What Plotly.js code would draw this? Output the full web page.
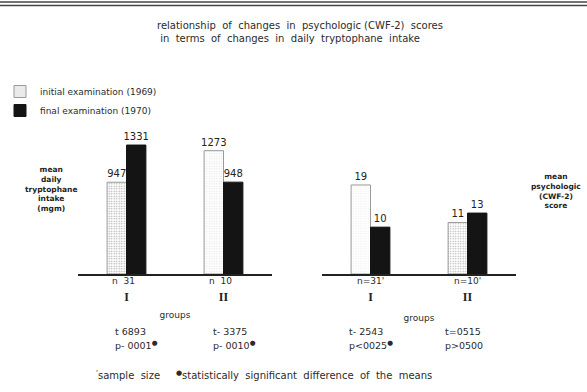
<!DOCTYPE html>
<html>
<head>
<meta charset="utf-8">
<script src="https://cdn.plot.ly/plotly-3.0.1.min.js"></script>
<style>html,body{margin:0;padding:0;background:#fff;}#chart{width:587px;height:392px;}</style>
</head>
<body>
<div id="chart"></div>
<script>
// ---- data ----
const groups = ['I', 'II'];
const groupLabels = ['I', 'II'];
const intakeInitial = [947, 1273];   // mean daily tryptophane intake (mgm), 1969
const intakeFinal = [1331, 948];     // 1970
const scoreInitial = [19, 11];       // mean psychologic (CWF-2) score, 1969
const scoreFinal = [10, 13];         // 1970
const sampleSizes = [31, 10];
const tLabels = ['t 6893', 't- 3375', 't- 2543', 't=0515'];
const pLabels = ['p- 0001', 'p- 0010', 'p<0025', 'p>0500'];
const significant = [true, true, true, false];
const seriesNames = ['initial examination (1969)', 'final examination (1970)'];

// ---- styles ----
const W = 587, H = 392;
const px = v => v / W;
const py = v => 1 - v / H;
const txt = '#2b2b2b';
const FAM = 'DejaVu Sans, Liberation Sans, sans-serif';
const baseFont = {family: FAM, size: 9, color: txt};
const initialMarker = (fg) => ({
  color: '#ffffff',
  line: {color: '#9a9a9a', width: 1},
  pattern: {shape: '.', fgcolor: fg, bgcolor: '#ffffff', size: 2.5, solidity: 0.25}
});
const finalMarker = {color: '#141414', line: {color: '#141414', width: 1}};
const barText = {family: FAM, size: 10, color: '#222'};

function barTrace(x, y, name, marker, xa, ya, showlegend) {
  return {
    type: 'bar', x: x, y: y, name: name, marker: marker,
    xaxis: xa, yaxis: ya, showlegend: showlegend, legendgroup: name,
    text: y.map(String), textposition: 'outside', constraintext: 'none',
    outsidetextfont: barText, cliponaxis: false, hoverinfo: 'x+y+name'
  };
}

const traces = [
  barTrace(groups, intakeInitial, seriesNames[0], initialMarker(['#a0a0a0', '#e6e6e6']), 'x', 'y', true),
  barTrace(groups, intakeFinal, seriesNames[1], finalMarker, 'x', 'y', true),
  barTrace(groups, scoreInitial, seriesNames[0], initialMarker(['#f2f2f2', '#ababab']), 'x2', 'y2', false),
  barTrace(groups, scoreFinal, seriesNames[1], finalMarker, 'x2', 'y2', false)
];

const xCommon = {
  type: 'category', showgrid: false, zeroline: false, showline: true,
  linecolor: '#222', linewidth: 1.5, ticks: '', ticklabelstandoff: 11,
  tickvals: groups, ticktext: groupLabels.map(s => '<b>' + s + '</b>'),
  tickfont: {family: 'Liberation Serif, DejaVu Serif, serif', size: 12, color: '#222'},
  fixedrange: true
};
const yCommon = {visible: false, showgrid: false, zeroline: false, fixedrange: true};

const A = (o) => Object.assign({xref: 'paper', yref: 'paper', showarrow: false,
  xanchor: 'center', yanchor: 'middle', font: baseFont}, o);

const annotations = [];
// y-axis labels
annotations.push(A({x: px(51), y: py(189),
  text: '<b>mean<br>daily<br>tryptophane<br>intake<br>(mgm)</b>', align: 'center',
  font: {family: FAM, size: 7.5, color: '#1e1e1e'}}));
annotations.push(A({x: px(556), y: py(191),
  text: '<b>mean<br>psychologic<br>(CWF-2)<br>score</b>', align: 'center',
  font: {family: FAM, size: 7.5, color: '#1e1e1e'}}));
// sample sizes
groups.forEach((g, i) => {
  annotations.push(A({xref: 'x', x: g, y: py(281), xshift: -3, text: 'n  ' + sampleSizes[i]}));
  annotations.push(A({xref: 'x2', x: g, y: py(281), text: 'n=' + sampleSizes[i] + "'"}));
});
// t and p statistics
const statX = [113, 211, 347, 443];
tLabels.forEach((t, i) => {
  annotations.push(A({x: px(statX[i]), y: py(331), xanchor: 'left', text: t,
    font: {family: FAM, size: 9.5, color: txt}}));
  annotations.push(A({x: px(statX[i]), y: py(345), xanchor: 'left',
    text: pLabels[i] + (significant[i] ? '<sup>●</sup>' : ''),
    font: {family: FAM, size: 9.5, color: txt}}));
});
// footnote
annotations.push(A({x: px(94), y: py(375), xanchor: 'left',
  text: "<sup>'</sup>sample  size     <sup>●</sup>statistically  significant  difference  of  the  means",
  font: {family: FAM, size: 10, color: txt}}));

const shapes = [
  {type: 'line', xref: 'paper', yref: 'paper', x0: 0, x1: 1, y0: py(2), y1: py(2), line: {color: '#444', width: 1.5}},
  {type: 'line', xref: 'paper', yref: 'paper', x0: 0, x1: 1, y0: py(5.5), y1: py(5.5), line: {color: '#444', width: 1.5}}
];

const layout = {
  width: W, height: H,
  margin: {l: 0, r: 0, t: 0, b: 0},
  paper_bgcolor: '#ffffff', plot_bgcolor: '#ffffff',
  font: baseFont,
  title: {
    text: 'relationship  of  changes  in  psychologic (CWF-2)  scores<br> in  terms  of  changes  in  daily  tryptophane  intake',
    x: px(157), xanchor: 'left', y: py(29), yanchor: 'top',
    font: {family: FAM, size: 10, color: txt}
  },
  barmode: 'group', bargap: 0.6, bargroupgap: 0,
  xaxis: Object.assign({}, xCommon, {domain: [px(78), px(272)], anchor: 'y',
    title: {text: 'groups', standoff: 9, font: {family: FAM, size: 9, color: txt}}}),
  yaxis: Object.assign({}, yCommon, {domain: [py(274), py(140)], range: [0, 1383], anchor: 'x'}),
  xaxis2: Object.assign({}, xCommon, {domain: [px(322), px(516)], anchor: 'y2',
    title: {text: 'groups', standoff: 12, font: {family: FAM, size: 9, color: txt}}}),
  yaxis2: Object.assign({}, yCommon, {domain: [py(274), py(140)], range: [0, 28.6], anchor: 'x2'}),
  showlegend: true,
  legend: {
    x: 0, xanchor: 'left', y: py(77), yanchor: 'top',
    bgcolor: 'rgba(0,0,0,0)', borderwidth: 0, tracegroupgap: 0,
    font: {family: FAM, size: 9, color: txt}
  },
  annotations: annotations,
  shapes: shapes
};

Plotly.newPlot('chart', traces, layout, {displayModeBar: false, staticPlot: true});
</script>
</body>
</html>
